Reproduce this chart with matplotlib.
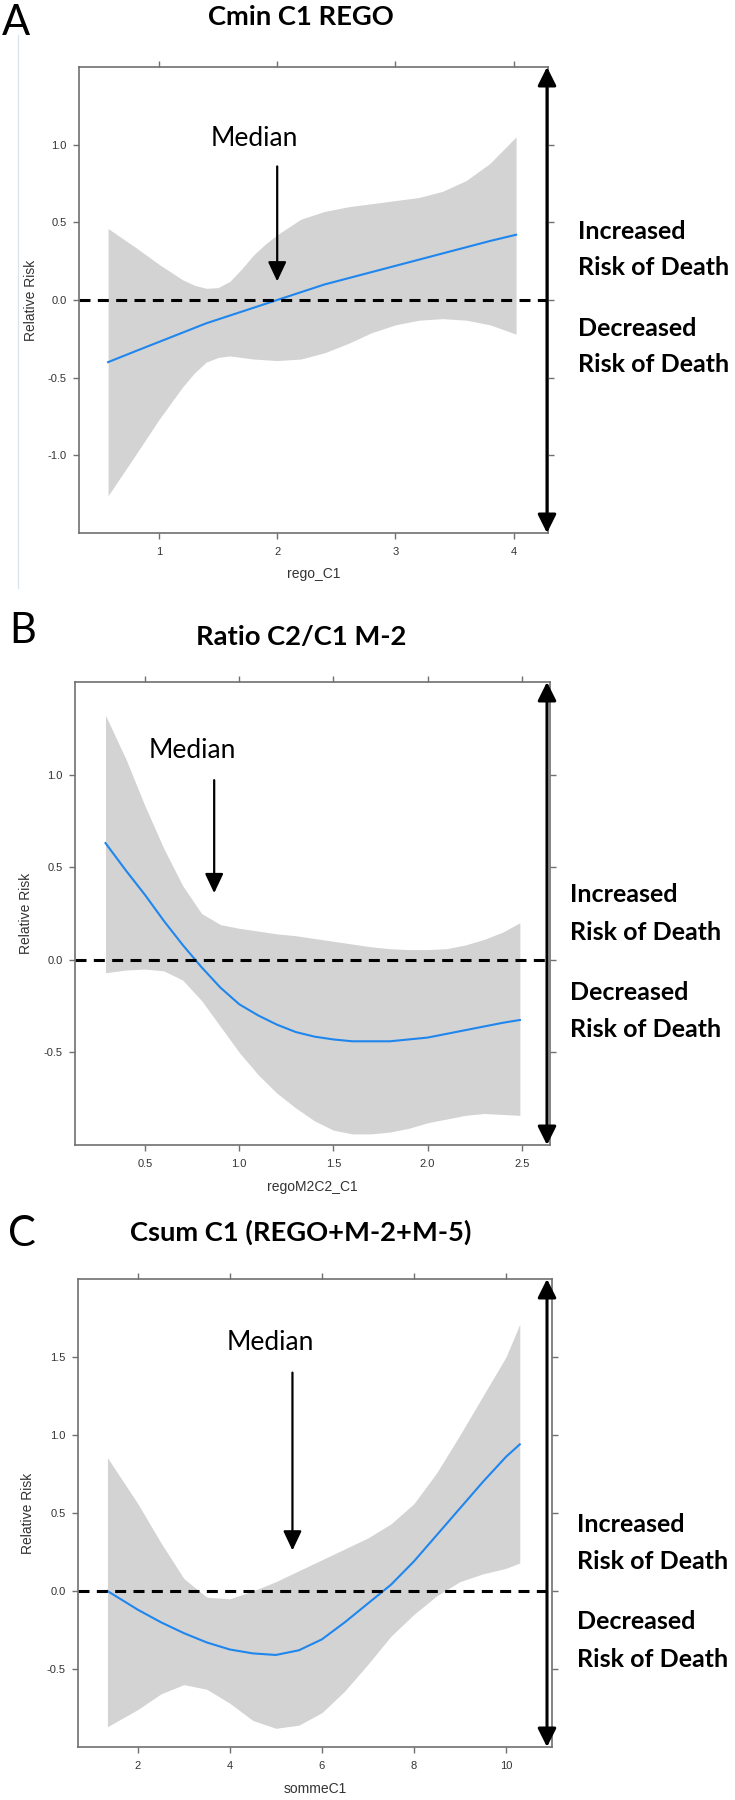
import matplotlib
matplotlib.use("Agg")
import matplotlib.pyplot as plt
from matplotlib.lines import Line2D

plt.rcParams['axes.unicode_minus'] = False

W, H = 735, 1800
DPI = 100

# ---------------- Data ----------------
# Panel A: Cmin C1 REGO
a_x = [0.57, 0.8, 1.0, 1.2, 1.3, 1.4, 1.5, 1.6, 1.7, 1.8, 1.9, 2.0, 2.2, 2.4, 2.6, 2.8, 3.0, 3.2, 3.4, 3.6, 3.8, 4.02]
a_fit = [-0.40, -0.33, -0.27, -0.21, -0.18, -0.15, -0.125, -0.10, -0.075, -0.05, -0.025, 0.00, 0.05, 0.10, 0.14, 0.18, 0.22, 0.26, 0.30, 0.34, 0.38, 0.42]
a_upper = [0.46, 0.34, 0.23, 0.13, 0.095, 0.075, 0.08, 0.12, 0.20, 0.29, 0.36, 0.42, 0.52, 0.57, 0.60, 0.62, 0.64, 0.66, 0.70, 0.77, 0.88, 1.05]
a_lower = [-1.26, -1.00, -0.77, -0.56, -0.47, -0.40, -0.37, -0.36, -0.37, -0.38, -0.385, -0.39, -0.38, -0.34, -0.28, -0.21, -0.16, -0.13, -0.12, -0.13, -0.16, -0.22]

# Panel B: Ratio C2/C1 M-2
b_x = [0.29, 0.4, 0.5, 0.6, 0.7, 0.8, 0.9, 1.0, 1.1, 1.2, 1.3, 1.4, 1.5, 1.6, 1.7, 1.8, 1.9, 2.0, 2.1, 2.2, 2.3, 2.4, 2.49]
b_fit = [0.63, 0.48, 0.35, 0.21, 0.08, -0.04, -0.15, -0.24, -0.30, -0.35, -0.39, -0.415, -0.43, -0.44, -0.44, -0.44, -0.43, -0.42, -0.40, -0.38, -0.36, -0.34, -0.325]
b_upper = [1.32, 1.08, 0.83, 0.60, 0.40, 0.25, 0.19, 0.17, 0.155, 0.14, 0.13, 0.115, 0.10, 0.085, 0.07, 0.06, 0.055, 0.055, 0.06, 0.08, 0.11, 0.15, 0.20]
b_lower = [-0.07, -0.055, -0.05, -0.06, -0.11, -0.22, -0.36, -0.50, -0.62, -0.72, -0.80, -0.87, -0.92, -0.94, -0.94, -0.93, -0.91, -0.88, -0.86, -0.84, -0.83, -0.835, -0.84]

# Panel C: Csum C1 (REGO+M-2+M-5)
c_x = [1.34, 2.0, 2.5, 3.0, 3.5, 4.0, 4.5, 5.0, 5.5, 6.0, 6.5, 7.0, 7.5, 8.0, 8.5, 9.0, 9.5, 10.0, 10.3]
c_fit = [0.0, -0.12, -0.20, -0.27, -0.33, -0.375, -0.40, -0.41, -0.38, -0.31, -0.20, -0.08, 0.04, 0.19, 0.36, 0.53, 0.70, 0.86, 0.94]
c_upper = [0.855, 0.56, 0.31, 0.08, -0.04, -0.05, 0.0, 0.06, 0.13, 0.20, 0.27, 0.34, 0.43, 0.56, 0.76, 1.00, 1.25, 1.50, 1.71]
c_lower = [-0.87, -0.76, -0.66, -0.60, -0.63, -0.72, -0.83, -0.88, -0.86, -0.78, -0.64, -0.47, -0.29, -0.15, -0.03, 0.06, 0.11, 0.145, 0.18]

titles = ["Cmin C1 REGO", "Ratio C2/C1 M-2", "Csum C1 (REGO+M-2+M-5)"]
letters = ["A", "B", "C"]
xlabels = ["rego_C1", "regoM2C2_C1", "sommeC1"]
ylabel = "Relative Risk"
a_xticks = [1, 2, 3, 4]
a_xticklabels = ["1", "2", "3", "4"]
a_yticks = [-1.0, -0.5, 0.0, 0.5, 1.0]
a_yticklabels = ["-1.0", "-0.5", "0.0", "0.5", "1.0"]
b_xticks = [0.5, 1.0, 1.5, 2.0, 2.5]
b_xticklabels = ["0.5", "1.0", "1.5", "2.0", "2.5"]
b_yticks = [-0.5, 0.0, 0.5, 1.0]
b_yticklabels = ["-0.5", "0.0", "0.5", "1.0"]
c_xticks = [2, 4, 6, 8, 10]
c_xticklabels = ["2", "4", "6", "8", "10"]
c_yticks = [-0.5, 0.0, 0.5, 1.0, 1.5]
c_yticklabels = ["-0.5", "0.0", "0.5", "1.0", "1.5"]
medians = [2.0, 0.867, 5.36]
inc_label = ["Increased", "Risk of Death"]
dec_label = ["Decreased", "Risk of Death"]

# ---------------- Layout (pixels) ----------------
panels = [
    dict(x=a_x, fit=a_fit, up=a_upper, lo=a_lower, xt=a_xticks, xtl=a_xticklabels,
         yt=a_yticks, ytl=a_yticklabels, xlim=(0.324, 4.29), ylim=(-1.5, 1.5),
         box=(79, 67, 548, 533), title_base=25, letter_x=2, letter_base=35,
         med_x=medians[0], med_top=0.86, med_tip=0.12, med_tx=1.81, med_ty=0.99,
         lab_x=578, lab_base=[239, 275, 336, 372], ylab_cx=32, xlab_cy=574),
    dict(x=b_x, fit=b_fit, up=b_upper, lo=b_lower, xt=b_xticks, xtl=b_xticklabels,
         yt=b_yticks, ytl=b_yticklabels, xlim=(0.128, 2.65), ylim=(-1.0, 1.5),
         box=(75, 682, 550, 1145), title_base=645, letter_x=9, letter_base=643,
         med_x=medians[1], med_top=0.97, med_tip=0.36, med_tx=0.75, med_ty=1.09,
         lab_x=570, lab_base=[902, 940, 1000, 1037], ylab_cx=27, xlab_cy=1187),
    dict(x=c_x, fit=c_fit, up=c_upper, lo=c_lower, xt=c_xticks, xtl=c_xticklabels,
         yt=c_yticks, ytl=c_yticklabels, xlim=(0.70, 11.0), ylim=(-1.0, 2.0),
         box=(78, 1279, 552, 1747), title_base=1241, letter_x=8, letter_base=1246,
         med_x=medians[2], med_top=1.40, med_tip=0.26, med_tx=4.87, med_ty=1.545,
         lab_x=577, lab_base=[1532, 1569, 1629, 1667], ylab_cx=29, xlab_cy=1789),
]

fig = plt.figure(figsize=(W / DPI, H / DPI), dpi=DPI)

def fx(px):
    return px / W

def fy(py):
    return 1 - py / H

AX_FONT = "Liberation Sans"
CAL = "Lato"
spine_col = "#707070"

for i, p in enumerate(panels):
    l, t, r, b = p["box"]
    ax = fig.add_axes([fx(l), fy(b), (r - l) / W, (b - t) / H])
    ax.fill_between(p["x"], p["lo"], p["up"], color="#d3d3d3", linewidth=0)
    ax.plot(p["x"], p["fit"], color="#1f86ee", lw=1.5)
    ax.set_xlim(*p["xlim"])
    ax.set_ylim(*p["ylim"])
    ax.set_xticks(p["xt"])
    ax.set_xticklabels(p["xtl"], fontfamily=AX_FONT, fontsize=8, color="#333333")
    ax.set_yticks(p["yt"])
    ax.set_yticklabels(p["ytl"], fontfamily=AX_FONT, fontsize=8, color="#333333")
    ax.tick_params(direction="out", length=4, width=1.0, color=spine_col,
                   top=True, right=True, labeltop=False, labelright=False)
    ax.tick_params(axis="x", pad=6)
    ax.tick_params(axis="y", pad=5)
    for s in ax.spines.values():
        s.set_color(spine_col)
        s.set_linewidth(1.2)
    ax.set_xlabel(xlabels[i], fontfamily=AX_FONT, fontsize=10, color="#333333")
    ax.set_ylabel(ylabel, fontfamily=AX_FONT, fontsize=10, color="#333333")
    ax.yaxis.set_label_coords((p["ylab_cx"] + 6 - l) / (r - l), 0.5)
    ax.xaxis.set_label_coords(0.5, (b - (p["xlab_cy"] - 7)) / (b - t))

    # arrow x position in axes fraction
    arr_xf = (547 - l) / (r - l)
    # dashed zero line
    ax.plot([0, arr_xf], [0, 0], transform=ax.get_yaxis_transform(), color="black",
            lw=2.2, dashes=(3.6, 2.4), clip_on=False)
    # double arrow
    ax.annotate("", xy=(arr_xf, 1.0), xytext=(arr_xf, 0.0), xycoords="axes fraction",
                textcoords="axes fraction",
                arrowprops=dict(arrowstyle="<|-|>,head_length=0.8,head_width=0.4",
                                mutation_scale=14, lw=2.2, color="black",
                                shrinkA=0, shrinkB=0), annotation_clip=False)
    # median arrow
    ax.annotate("", xy=(p["med_x"], p["med_tip"]), xytext=(p["med_x"], p["med_top"]),
                arrowprops=dict(arrowstyle="-|>,head_length=0.85,head_width=0.4",
                                mutation_scale=14, lw=1.6, color="black",
                                shrinkA=0, shrinkB=0))
    ax.text(p["med_tx"], p["med_ty"], "Median", ha="center", va="baseline",
            fontfamily=CAL, fontsize=19, color="black")

    # titles and letters
    fig.text(fx(301), fy(p["title_base"]), titles[i], ha="center", va="baseline",
             fontfamily=CAL, fontweight="bold", fontsize=19.7)
    fig.text(fx(p["letter_x"]), fy(p["letter_base"]), letters[i], ha="left",
             va="baseline", fontfamily=CAL, fontsize=30)

    # right-side labels
    lines = inc_label + dec_label
    for txt, yb in zip(lines, p["lab_base"]):
        fig.text(fx(p["lab_x"]), fy(yb), txt, ha="left", va="baseline",
                 fontfamily=CAL, fontweight="bold", fontsize=18)

# faint border line of the first panel
fig.add_artist(Line2D([fx(18), fx(18)], [fy(35), fy(588)], color="#dce4ee", lw=1.0))

fig.savefig("out.png", dpi=DPI)
